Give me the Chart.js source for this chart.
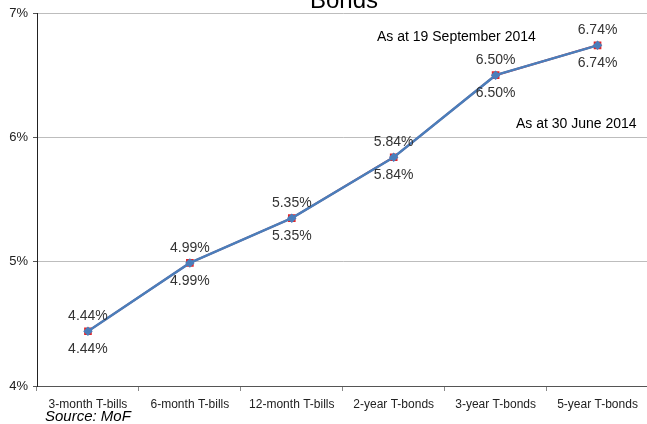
<!DOCTYPE html>
<html>
<head>
<meta charset="utf-8">
<script src="https://cdn.jsdelivr.net/npm/chart.js@4/dist/chart.umd.min.js"></script>
<style>
  html, body { margin: 0; padding: 0; background: #fff; }
  #wrap { position: relative; width: 647px; height: 424px; overflow: hidden; }
</style>
</head>
<body>
<div id="wrap"><canvas id="yieldChart" width="655" height="424"></canvas></div>
<script>
const categories = ['3-month T-bills', '6-month T-bills', '12-month T-bills', '2-year T-bonds', '3-year T-bonds', '5-year T-bonds'];
const june2014 = [4.44, 4.99, 5.35, 5.84, 6.50, 6.74];
const sept2014 = [4.44, 4.99, 5.35, 5.84, 6.50, 6.74];
const yTicks = [4, 5, 6, 7];

const FONT = '"Liberation Sans", Arial, sans-serif';

// labels above/below points, title, notes
const extras = {
    id: 'extras',
    afterDatasetsDraw(chart) {
        const { ctx, scales: { x, y } } = chart;
        ctx.save();
        ctx.font = '14px ' + FONT;
        ctx.fillStyle = '#333';
        ctx.textAlign = 'center';
        ctx.textBaseline = 'middle';
        sept2014.forEach((v, i) => {
            ctx.fillText(v.toFixed(2) + '%', x.getPixelForValue(i), y.getPixelForValue(v) - 15);
        });
        june2014.forEach((v, i) => {
            ctx.fillText(v.toFixed(2) + '%', x.getPixelForValue(i), y.getPixelForValue(v) + 18);
        });

        ctx.fillStyle = '#000';
        ctx.textAlign = 'left';
        ctx.fillText('As at 19 September 2014', 377, 37);
        ctx.fillText('As at 30 June 2014', 516, 124);

        ctx.font = 'italic 15px ' + FONT;
        ctx.fillText('Source: MoF', 45, 417);

        ctx.font = '24px ' + FONT;
        ctx.textAlign = 'center';
        ctx.textBaseline = 'alphabetic';
        ctx.fillText('Bonds', 344, 8);
        ctx.restore();
    }
};

const ctx = document.getElementById('yieldChart').getContext('2d');
new Chart(ctx, {
    type: 'line',
    data: {
        labels: categories,
        datasets: [
            {
                label: 'As at 30 June 2014',
                data: june2014,
                borderColor: '#d9262b',
                borderWidth: 2,
                pointStyle: 'rect',
                pointRadius: 4,
                pointBackgroundColor: '#e0262b',
                pointBorderColor: '#e0262b',
                order: 2
            },
            {
                label: 'As at 19 September 2014',
                data: sept2014,
                borderColor: '#4a7ebb',
                borderWidth: 2.5,
                pointStyle: 'rectRot',
                pointRadius: 3,
                pointBackgroundColor: '#4a7ebb',
                pointBorderColor: '#4a7ebb',
                order: 1
            }
        ]
    },
    options: {
        responsive: false,
        animation: false,
        layout: { padding: { top: 13, right: 0, left: 0, bottom: 0 } },
        plugins: {
            legend: { display: false },
            tooltip: { enabled: false }
        },
        scales: {
            x: {
                offset: true,
                grid: {
                    offset: true,
                    drawOnChartArea: false,
                    drawTicks: true,
                    tickLength: 5,
                    color: '#888'
                },
                border: { color: '#555', width: 1 },
                ticks: {
                    color: '#222',
                    font: { family: FONT, size: 12 },
                    padding: 6,
                    maxRotation: 0,
                    autoSkip: false
                },
                afterFit(scale) { scale.height = 38; }
            },
            y: {
                min: 4,
                max: 7,
                afterBuildTicks(scale) {
                    scale.ticks = yTicks.map(v => ({ value: v }));
                },
                grid: {
                    color: '#bdbdbd',
                    tickLength: 4,
                    tickColor: '#555'
                },
                border: { color: '#222', width: 1 },
                ticks: {
                    color: '#222',
                    font: { family: FONT, size: 13 },
                    padding: 5,
                    callback: v => v + '%'
                },
                afterFit(scale) { scale.width = 37; }
            }
        }
    },
    plugins: [extras]
});
</script>
</body>
</html>
